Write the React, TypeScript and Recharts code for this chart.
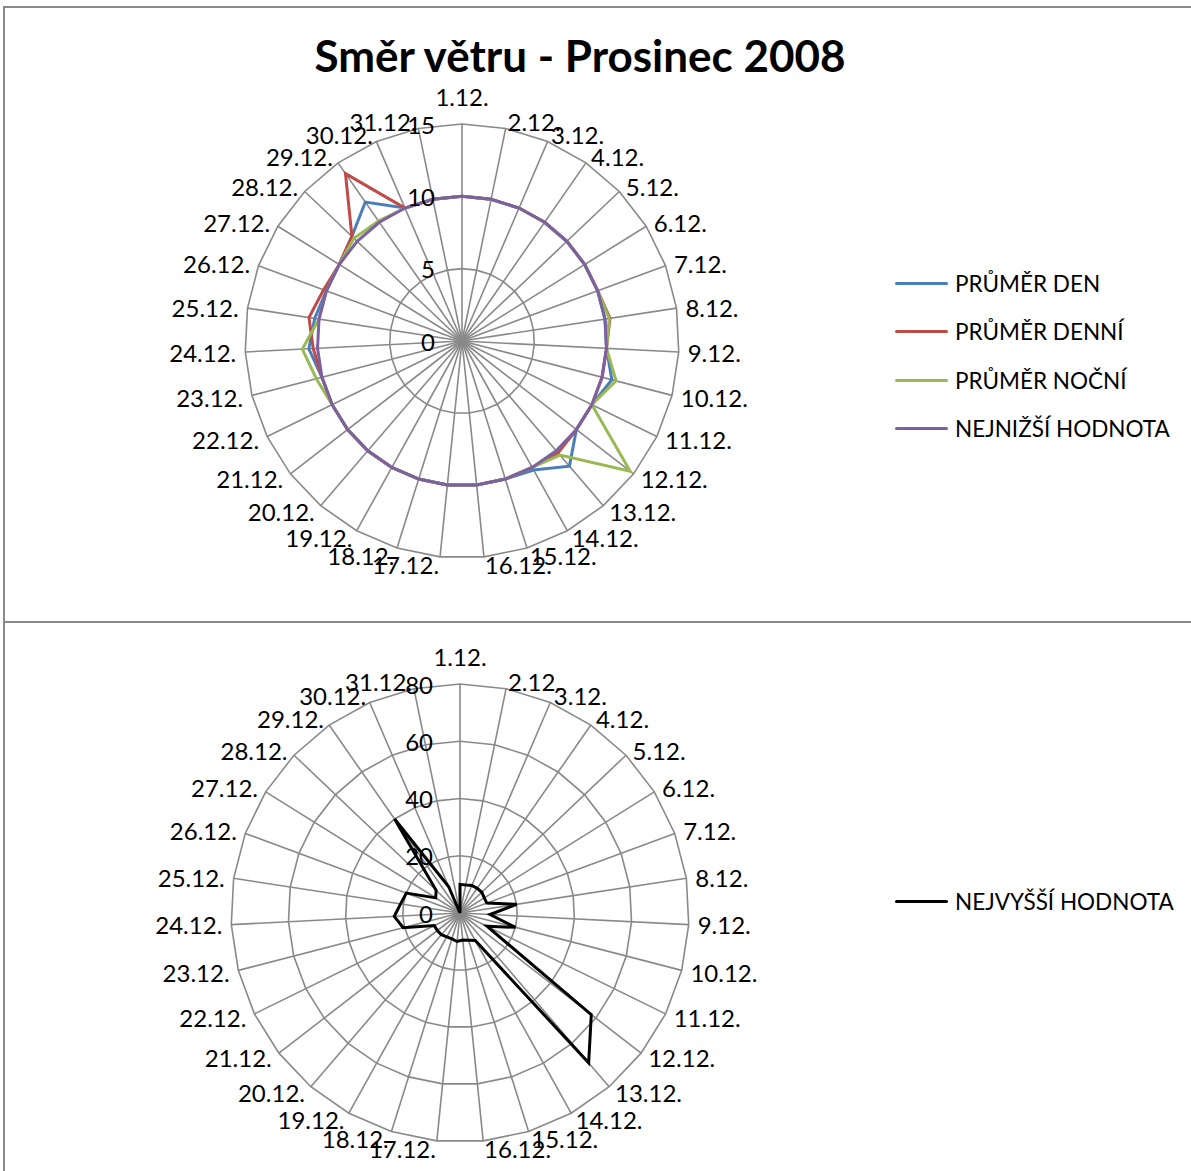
import React from 'react';
import { RadarChart, Radar, PolarGrid, PolarAngleAxis, PolarRadiusAxis, Legend } from 'recharts';

const FONT = 'Lato, "Open Sans", sans-serif';

const days = [
  '1.12.', '2.12.', '3.12.', '4.12.', '5.12.', '6.12.', '7.12.', '8.12.', '9.12.', '10.12.',
  '11.12.', '12.12.', '13.12.', '14.12.', '15.12.', '16.12.', '17.12.', '18.12.', '19.12.', '20.12.',
  '21.12.', '22.12.', '23.12.', '24.12.', '25.12.', '26.12.', '27.12.', '28.12.', '29.12.', '30.12.',
  '31.12.',
];

// horni graf (0-15)
const prumerDen = [10, 10, 10, 10, 10, 10, 10, 10, 10, 10.7, 10, 10, 11.4, 10.2, 10, 10, 10, 10, 10, 10, 10, 10, 10, 10.6, 10.3, 10, 10, 10.5, 11.7, 10, 10];
const prumerDenni = [10, 10, 10, 10, 10, 10, 10, 10.35, 10, 10, 10, 10, 10.2, 10, 10, 10, 10, 10, 10, 10, 10, 10, 10, 10.3, 10.7, 10.2, 10, 10.5, 14.1, 10, 10];
const prumerNocni = [10, 10, 10, 10, 10, 10, 10, 10.3, 10, 11, 10, 14.7, 10.4, 10, 10, 10, 10, 10, 10, 10, 10, 10, 10.4, 11.05, 10, 10, 10, 10.3, 10.1, 10, 10];
const nejnizsi = [10, 10, 10, 10, 10, 10, 10, 10, 10, 10, 10, 10, 10, 10, 10, 10, 10, 10, 10, 10, 10, 10, 10, 10, 10, 10, 10, 10, 10, 10, 10];

// dolni graf (0-80), 31.12. chybi
const nejvyssi = [10, 10, 10.5, 10.5, 10.5, 10, 10, 20, 10.5, 20, 10.5, 58, 69, 11, 10, 9.5, 10, 9.5, 9.5, 10, 10, 10, 20.5, 23, 21, 20, 10, 11.5, 40, 10, null];

const topTicks = [0, 5, 10, 15];
const bottomTicks = [0, 20, 40, 60, 80];

const legendOrder = ['PRŮMĚR DEN', 'PRŮMĚR DENNÍ', 'PRŮMĚR NOČNÍ', 'NEJNIŽŠÍ HODNOTA', 'NEJVYŠŠÍ HODNOTA'];

const topData = days.map((d, i) => ({
  day: d,
  den: prumerDen[i],
  denni: prumerDenni[i],
  nocni: prumerNocni[i],
  nejnizsi: nejnizsi[i],
}));

const bottomData = days.map((d, i) => ({ day: d, nejvyssi: nejvyssi[i] }));

const GRID = '#898989';

const makeAngleTick = (cx: number, cy: number, r: number) => (props: any) => {
  const { x, y, payload } = props;
  const len = Math.hypot(x - cx, y - cy) || 1;
  const dx = (x - cx) / len;
  const dy = (y - cy) / len;
  const tx = cx + (r + 9) * dx;
  let ty = cy + (r + 7.5) * dy;
  let anchor: 'start' | 'end' | 'middle' = 'middle';
  if (dx > 0.05) anchor = 'start';
  else if (dx < -0.05) anchor = 'end';
  else ty -= 20;
  return (
    <text x={tx} y={ty} textAnchor={anchor} dominantBaseline="central" fontSize={24} fill="#000" fontFamily={FONT}>
      {payload.value}
    </text>
  );
};

const radiusTick = (props: any) => {
  const { x, y, payload } = props;
  return (
    <text x={x - 27} y={y} textAnchor="end" dominantBaseline="central" fontSize={24} fill="#000" fontFamily={FONT}>
      {payload.value}
    </text>
  );
};

const renderLegend = (props: any) => {
  const items = [...(props.payload || [])].sort(
    (a: any, b: any) => legendOrder.indexOf(a.value) - legendOrder.indexOf(b.value)
  );
  return (
    <div style={{ fontFamily: FONT }}>
      {items.map((entry: any) => (
        <div key={entry.value} style={{ display: 'flex', alignItems: 'center', height: 48.5 }}>
          <div style={{ width: 53, height: 3, background: entry.color, borderRadius: 2, marginRight: 7 }} />
          <span style={{ fontSize: 22.5, color: '#000', whiteSpace: 'nowrap' }}>{entry.value}</span>
        </div>
      ))}
    </div>
  );
};

export default function App() {
  return (
    <div style={{ position: 'absolute', left: 0, top: 0, width: 1191, height: 1171, background: '#fff', overflow: 'hidden' }}>
      <div style={{ position: 'absolute', left: 3, top: 6, width: 1200, height: 614, borderTop: '2px solid #8a8a8a', borderLeft: '2px solid #8a8a8a' }} />
      <div style={{ position: 'absolute', left: 3, top: 621, width: 1200, height: 600, borderTop: '2px solid #8a8a8a', borderLeft: '2px solid #8a8a8a' }} />

      <div
        style={{
          position: 'absolute', left: 0, width: 1160, top: 30, textAlign: 'center',
          fontFamily: FONT, fontWeight: 700, fontSize: 44, color: '#000', lineHeight: '50px',
        }}
      >
        Směr větru - Prosinec 2008
      </div>

      <div style={{ position: 'absolute', left: 0, top: 0 }}>
        <RadarChart width={1191} height={616} data={topData} cx={462} cy={341} outerRadius={217} margin={{ top: 0, right: 0, bottom: 0, left: 0 }}>
          <PolarGrid gridType="polygon" stroke={GRID} strokeWidth={1.6} />
          <PolarAngleAxis dataKey="day" tick={makeAngleTick(462, 341, 217)} tickLine={false} axisLine={false} />
          <PolarRadiusAxis angle={90} domain={[0, 15]} ticks={topTicks} tickCount={4} tick={radiusTick} axisLine={false} />
          <Radar name="PRŮMĚR DEN" dataKey="den" stroke="#4A7EBB" strokeWidth={3} fill="none" fillOpacity={0} dot={false} isAnimationActive={false} />
          <Radar name="PRŮMĚR DENNÍ" dataKey="denni" stroke="#BE4B48" strokeWidth={3} fill="none" fillOpacity={0} dot={false} isAnimationActive={false} />
          <Radar name="PRŮMĚR NOČNÍ" dataKey="nocni" stroke="#98B954" strokeWidth={3} fill="none" fillOpacity={0} dot={false} isAnimationActive={false} />
          <Radar name="NEJNIŽŠÍ HODNOTA" dataKey="nejnizsi" stroke="#7D60A0" strokeWidth={3} fill="none" fillOpacity={0} dot={false} isAnimationActive={false} />
          <Legend content={renderLegend} layout="vertical" align="right" verticalAlign="top" wrapperStyle={{ left: 895, top: 259, width: 296 }} />
        </RadarChart>
      </div>

      <div style={{ position: 'absolute', left: 0, top: 622 }}>
        <RadarChart width={1191} height={549} data={bottomData} cx={460} cy={291} outerRadius={229} margin={{ top: 0, right: 0, bottom: 0, left: 0 }}>
          <PolarGrid gridType="polygon" stroke={GRID} strokeWidth={1.6} />
          <PolarAngleAxis dataKey="day" tick={makeAngleTick(460, 291, 229)} tickLine={false} axisLine={false} />
          <PolarRadiusAxis angle={90} domain={[0, 80]} ticks={bottomTicks} tickCount={5} tick={radiusTick} axisLine={false} />
          <Radar name="NEJVYŠŠÍ HODNOTA" dataKey="nejvyssi" stroke="#000000" strokeWidth={3} fill="none" fillOpacity={0} dot={false} isAnimationActive={false} />
          <Legend content={renderLegend} layout="vertical" align="right" verticalAlign="top" wrapperStyle={{ left: 895, top: 255, width: 296 }} />
        </RadarChart>
      </div>
    </div>
  );
}
